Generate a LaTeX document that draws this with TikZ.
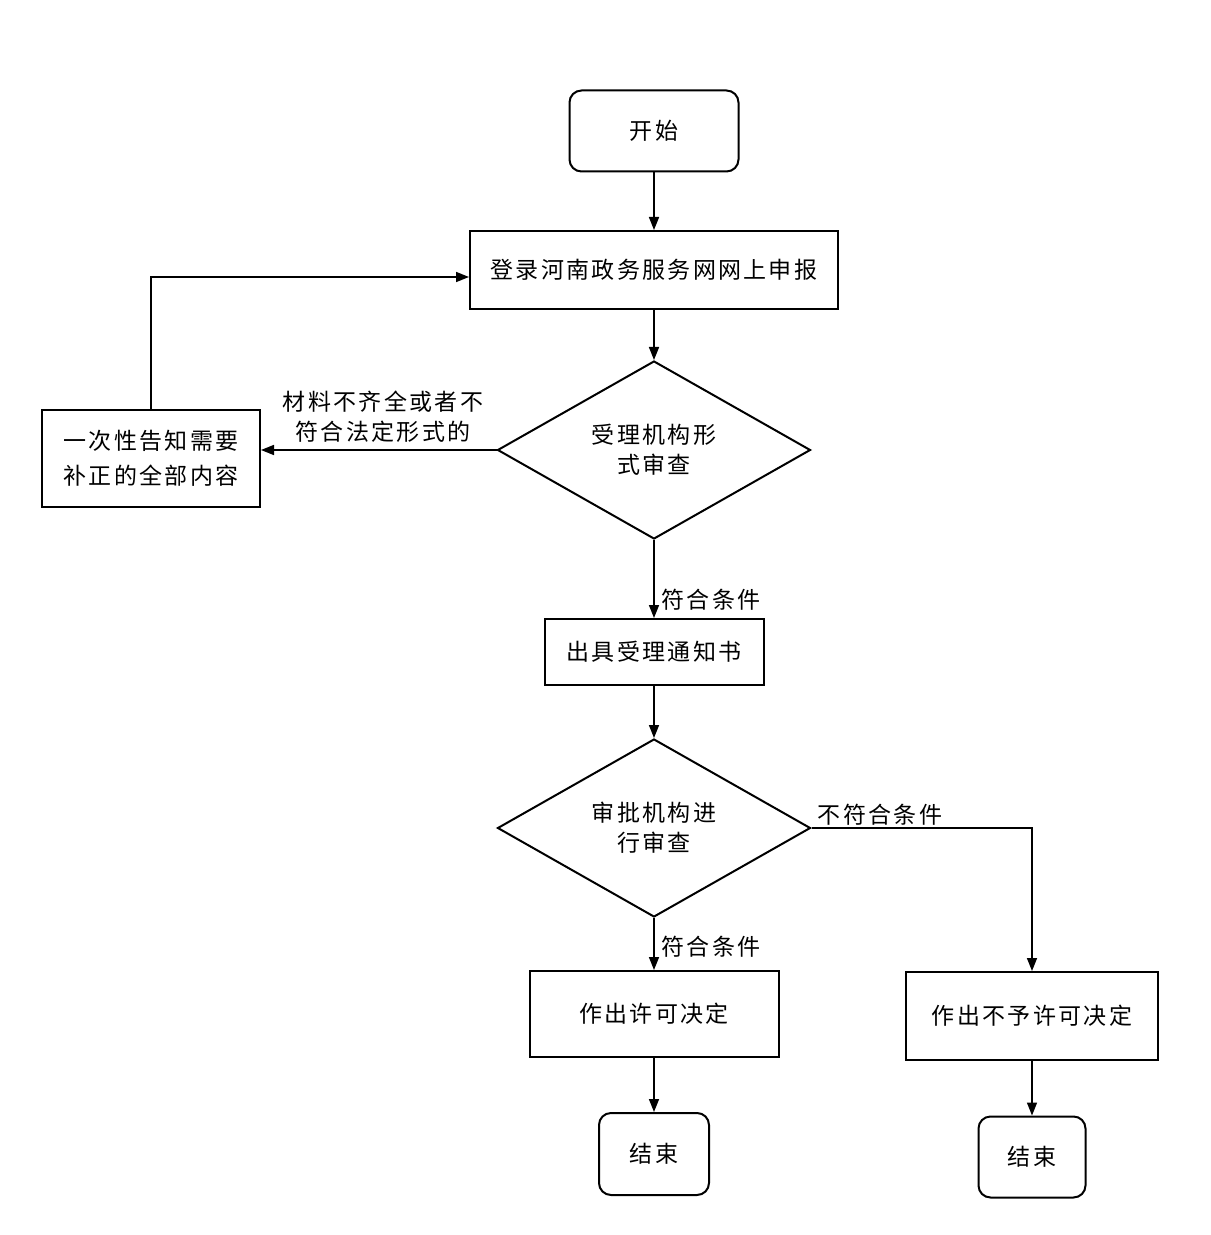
\documentclass[tikz,border=0pt]{standalone}
\usepackage{fontspec}
\setmainfont{Noto Sans CJK SC}[LetterSpace=10]
\usetikzlibrary{shapes.geometric,arrows.meta}

\newcommand*{\mainx}{654}
\newcommand*{\sidex}{1032}

\begin{document}
\begin{tikzpicture}
[
	x=0.5pt, y=-0.5pt,
	font=\fontsize{11.5}{15}\selectfont,
	termbox/.style={draw,line width=1pt,rounded corners=6pt,minimum width=55pt,minimum height=41pt},
	procbox/.style={draw,line width=1pt,align=center,minimum width=109.5pt,minimum height=33pt},
	checkbox/.style={diamond,draw,line width=1pt,align=center,minimum width=156.5pt,minimum height=89pt,inner sep=0pt},
	arr/.style={line width=0.8pt,-{Triangle[length=6.5pt,width=5pt]}}
]

	\useasboundingbox (0,0) rectangle (1210,1235);

	% nodes
	\node[termbox,minimum width=84.5pt,minimum height=40.5pt] at (\mainx,131) (start) {开始};
	\node[procbox,minimum width=184pt,minimum height=39pt] at (\mainx,270) (login) {登录河南政务服务网网上申报};
	\node[procbox,minimum width=109pt,minimum height=48.5pt,font=\fontsize{11.5}{17.5}\selectfont] at (151,458) (notify) {一次性告知需要\\补正的全部内容};
	\node[checkbox] at (\mainx,450) (check) {受理机构形\\式审查};
	\node[procbox] at (\mainx,652) (accept) {出具受理通知书};
	\node[checkbox] at (\mainx,828) (review) {审批机构进\\行审查};
	\node[procbox,minimum width=124.5pt,minimum height=43pt] at (\mainx,1014) (permit) {作出许可决定};
	\node[termbox] at (\mainx,1154) (endl) {结束};
	\node[procbox,minimum width=126pt,minimum height=44pt] at (\sidex,1016) (deny) {作出不予许可决定};
	\node[termbox,minimum width=53.5pt,minimum height=40.5pt] at (\sidex,1157) (endr) {结束};

	% arrows
	\draw[arr] (start) -- (login);
	\draw[arr] (login) -- (check);
	\draw[arr] (check.west) -- (check.west -| notify.east);
	\node[align=center] at (383,417) (lack) {材料不齐全或者不\\符合法定形式的};
	\draw[arr] (notify.north) |- ([yshift=-3.5pt]login.west);
	\draw[arr] (check) -- node[right,pos=0.76] (okone) {符合条件} (accept);
	\draw[arr] (accept) -- (review);
	\draw[arr] (review) -- node[right,pos=0.55] (oktwo) {符合条件} (permit);
	\draw[arr] (review.east) -| (deny.north);
	\node at (880,815) (notok) {不符合条件};
	\draw[arr] (permit) -- (endl);
	\draw[arr] (deny) -- (endr);

\end{tikzpicture}
\end{document}
